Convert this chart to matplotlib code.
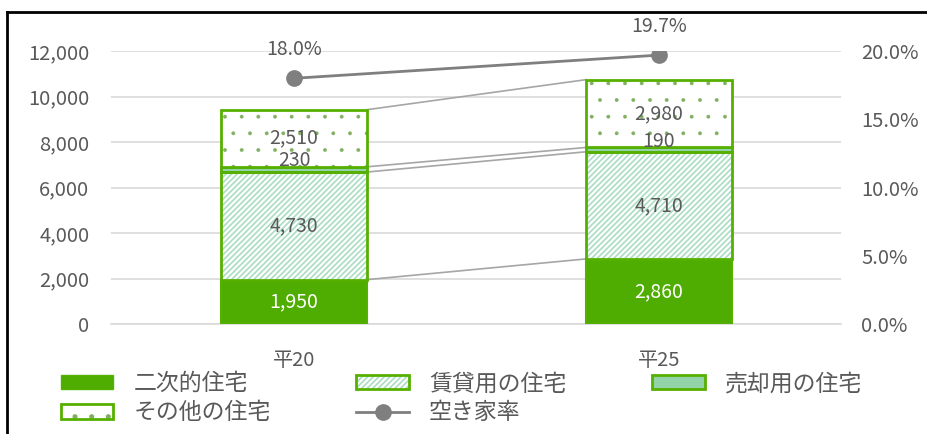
import matplotlib
matplotlib.use("Agg")
import matplotlib.pyplot as plt
from matplotlib.patches import Patch
from matplotlib.lines import Line2D
import numpy as np

plt.rcParams['font.family'] = ['Noto Sans CJK JP', 'DejaVu Sans']
plt.rcParams['hatch.linewidth'] = 1.2

# data
years = ['平20', '平25']
secondary = [1950, 2860]
rental = [4730, 4710]
for_sale = [230, 190]
other = [2510, 2980]
vacancy = [0.180, 0.197]
series_names = ['二次的住宅', '賃貸用の住宅', '売却用の住宅', 'その他の住宅']
rate_name = '空き家率'

GREEN = '#4EAD00'
EDGE = '#56B000'
HATCH = '#A9DDC1'
SALE = '#93D3A9'
DOT = '#7FB060'
TXT = '#595959'
GRID = '#D9D9D9'


def thin_dots(p):
    if hasattr(p, 'set_hatch_linewidth'):
        p.set_hatch_linewidth(0.3)
    return p


fig = plt.figure(figsize=(9.28, 4.34), dpi=100)
ax = fig.add_axes([111.5/928, 110/434, 730/928, 273/434])
ax2 = ax.twinx()

x = np.array([0.25, 0.75])
w = 0.2
ax.set_xlim(0, 1)
ax.set_ylim(0, 12000)
ax2.set_ylim(0, 0.20)

stack = [secondary, rental, for_sale, other]
bottoms = np.zeros(2)
tops = []
for i, vals in enumerate(stack):
    vals = np.array(vals, dtype=float)
    if i == 0:
        ax.bar(x, vals, w, bottom=bottoms, color=GREEN, edgecolor=EDGE, lw=1.5, zorder=3)
    elif i == 1:
        ax.bar(x, vals, w, bottom=bottoms, color='white', edgecolor=HATCH, hatch='//////', lw=0, zorder=3)
        ax.bar(x, vals, w, bottom=bottoms, fill=False, edgecolor=EDGE, lw=2, zorder=4)
    elif i == 2:
        ax.bar(x, vals, w, bottom=bottoms, color=SALE, edgecolor=EDGE, lw=2, zorder=3)
    else:
        bars = ax.bar(x, vals, w, bottom=bottoms, color='white', edgecolor=DOT, hatch='.', lw=0, zorder=3)
        for b in bars:
            thin_dots(b)
        ax.bar(x, vals, w, bottom=bottoms, fill=False, edgecolor=EDGE, lw=2, zorder=4)
    for j in range(2):
        if vals[j] < 1000:
            ax.annotate(f'{int(vals[j]):,}', (x[j], bottoms[j] + vals[j]), xytext=(0, -3),
                        textcoords='offset points', ha='center', va='bottom',
                        fontsize=14, color=TXT, zorder=6)
        else:
            ax.text(x[j], bottoms[j] + vals[j] / 2, f'{int(vals[j]):,}', ha='center', va='center',
                    fontsize=14, color='white' if i == 0 else TXT, zorder=6)
    bottoms = bottoms + vals
    tops.append(bottoms.copy())

# series lines between bars
for t in tops:
    ax.plot([x[0] + w / 2, x[1] - w / 2], [t[0], t[1]], color='#A6A6A6', lw=1.2, zorder=2)

ax2.plot(x, vacancy, color='#7F7F7F', lw=2, marker='o', ms=11, zorder=5)
for xi, v in zip(x, vacancy):
    ax2.annotate(f'{v*100:.1f}%', (xi, v), xytext=(0, 13), textcoords='offset points',
                 ha='center', va='bottom', fontsize=14, color=TXT)

ax.set_yticks(np.arange(0, 12001, 2000))
ax.set_yticklabels([f'{v:,}' for v in range(0, 12001, 2000)])
ax2.set_yticks(np.arange(0, 0.201, 0.05))
ax2.set_yticklabels([f'{v*100:.1f}%' for v in np.arange(0, 0.201, 0.05)])
ax.set_xticks(x)
ax.set_xticklabels(years)
ax.yaxis.grid(True, color=GRID, lw=1.2, zorder=0)
ax.set_axisbelow(True)
for a in (ax, ax2):
    for s in a.spines.values():
        s.set_visible(False)
    a.tick_params(length=0, labelsize=14.5, colors=TXT)
ax.spines['bottom'].set_visible(True)
ax.spines['bottom'].set_color(GRID)
ax.spines['bottom'].set_linewidth(1.2)
ax.tick_params(axis='y', pad=16)
ax.tick_params(axis='x', pad=19)
ax2.tick_params(axis='y', pad=14)

# legend
h_sec = Patch(facecolor=GREEN, edgecolor=EDGE)
h_rent = (Patch(facecolor='white', edgecolor=HATCH, hatch='//////', lw=0),
          Patch(fill=False, edgecolor=EDGE, lw=2))
h_sale = Patch(facecolor=SALE, edgecolor=EDGE, lw=2)
h_oth = (thin_dots(Patch(facecolor='white', edgecolor=DOT, hatch='.', lw=0)),
         Patch(fill=False, edgecolor=EDGE, lw=2))
h_rate = Line2D([], [], color='#7F7F7F', lw=2, marker='o', ms=11)
fig.legend([h_sec, h_oth, h_rent, h_rate, h_sale],
           [series_names[0], series_names[3], series_names[1], rate_name, series_names[2]],
           ncol=3, loc='lower left', bbox_to_anchor=(40/928, -11/434), frameon=False,
           fontsize=16.5, labelcolor=TXT, handlelength=2.3, handleheight=0.6,
           handletextpad=0.87, columnspacing=3.75, labelspacing=0.27)

# chart frame (left and top visible)
fig.add_artist(plt.Line2D([7/928, 7/928], [0, 1 - 12/434], color='black', lw=2))
fig.add_artist(plt.Line2D([7/928, 1], [1 - 12/434, 1 - 12/434], color='black', lw=2))

fig.savefig('out.png', dpi=100)
